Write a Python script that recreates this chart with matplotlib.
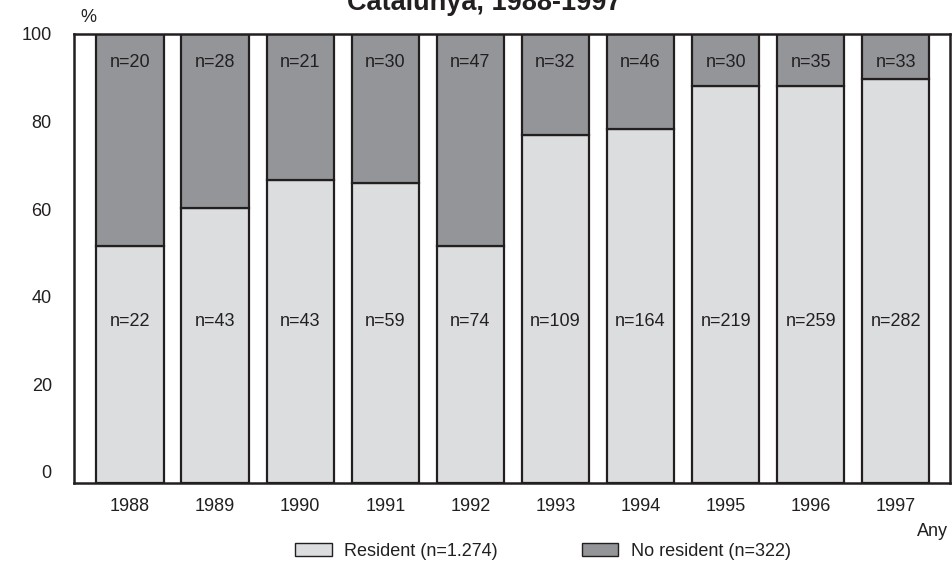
import matplotlib
matplotlib.use("Agg")
import matplotlib.pyplot as plt
from matplotlib.patches import Patch

plt.rcParams['font.family'] = ['Liberation Sans', 'DejaVu Sans']

years = ['1988', '1989', '1990', '1991', '1992', '1993', '1994', '1995', '1996', '1997']
resident_pct = [51.5, 60.2, 66.6, 65.9, 51.5, 76.9, 78.3, 88.1, 88.1, 89.7]
resident_n = [22, 43, 43, 59, 74, 109, 164, 219, 259, 282]
noresident_n = [20, 28, 21, 30, 47, 32, 46, 30, 35, 33]
yticks = [0, 20, 40, 60, 80, 100]
title = 'Catalunya, 1988-1997'
legend_labels = ['Resident (n=1.274)', 'No resident (n=322)']

c_res = '#dcdddf'
c_nores = '#939598'
ymin = -2.6

fig = plt.figure(figsize=(9.53, 5.66), dpi=100)
ax = fig.add_axes([74/953, 1-483/566, (950-74)/953, (483-34)/566])

x = list(range(len(years)))
noresident_pct = [100 - v for v in resident_pct]
w = 0.79
ax.bar(x, [v - ymin for v in resident_pct], bottom=ymin, width=w, color=c_res,
       edgecolor='#231f20', linewidth=1.6)
ax.bar(x, noresident_pct, bottom=resident_pct, width=w, color=c_nores,
       edgecolor='#231f20', linewidth=1.6)

for i in x:
    ax.text(i, 34.4, f'n={resident_n[i]}', ha='center', va='center', fontsize=13, color='#231f20')
    ax.text(i, 93.6, f'n={noresident_n[i]}', ha='center', va='center', fontsize=13, color='#231f20')

ax.set_xlim(-0.658, 9.636)
ax.set_ylim(ymin, 100)
ax.set_xticks(x)
ax.set_xticklabels(years, fontsize=13, color='#231f20')
ax.set_yticks(yticks)
ax.set_yticklabels([str(t) for t in yticks], fontsize=13, color='#231f20')
ax.tick_params(length=0)
ax.tick_params(axis='x', pad=11)
ax.tick_params(axis='y', pad=16)
for s in ax.spines.values():
    s.set_linewidth(1.8)
    s.set_color('#231f20')

fig.text(88/953, 1-18/566, '%', ha='center', va='center', fontsize=13, color='#231f20')
fig.text(484/953, 1-10/566, title, ha='center', va='baseline', fontsize=19.5,
         fontweight='bold', color='#231f20')
fig.text(932/953, 1-532/566, 'Any', ha='center', va='center', fontsize=13, color='#231f20')

handles = [Patch(facecolor=c_res, edgecolor='#231f20', linewidth=1.0),
           Patch(facecolor=c_nores, edgecolor='#231f20', linewidth=1.0)]
fig.legend(handles, legend_labels, loc='center', bbox_to_anchor=(543/953, 1-551/566),
           ncol=2, frameon=False, fontsize=13, handlelength=2.0, handleheight=0.7,
           handletextpad=0.7, columnspacing=4.65, labelcolor='#231f20')

fig.savefig('out.png', dpi=100)
